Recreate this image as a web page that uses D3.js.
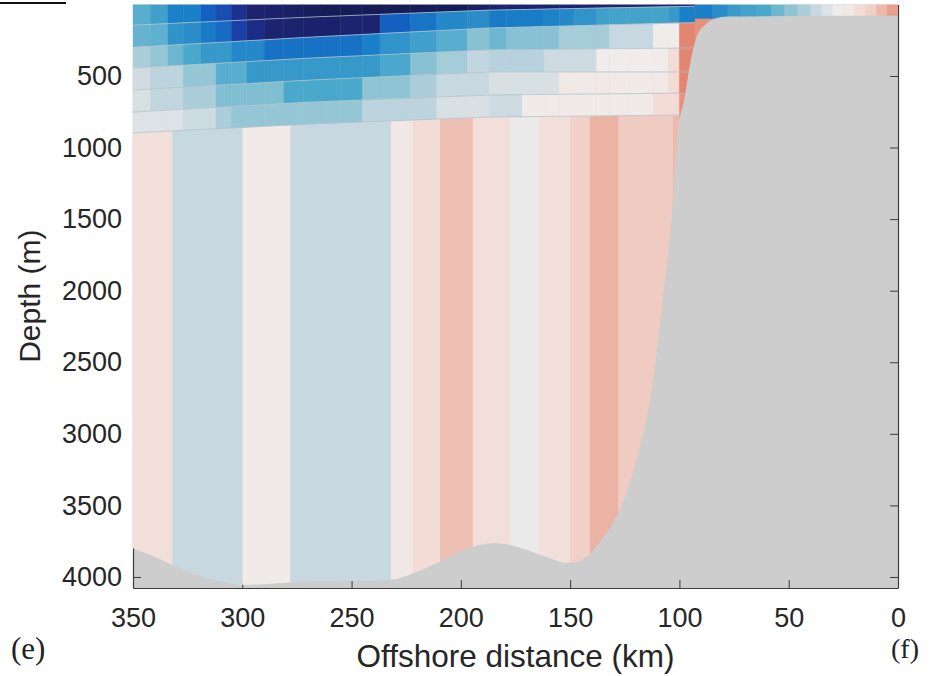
<!DOCTYPE html>
<html>
<head>
<meta charset="utf-8">
<script src="https://cdn.jsdelivr.net/npm/d3@7"></script>
<style>
  body { margin: 0; background: #fff; }
  .tick text { font-family: "Liberation Sans", Arial, sans-serif; font-size: 27px; fill: #262626; }
  .tick line, .domain { stroke: #3a3a3a; }
</style>
</head>
<body>
<script>
// ---- data ----
// upper layer column edges (km offshore)
const upperEdges = [350, 342, 334, 327, 319, 312, 305, 298, 290, 281, 272, 264, 255, 245, 237,
                    223, 211, 197, 187, 179, 172, 162, 155, 148, 138, 132, 123, 112, 105, 100, 93];
// values per layer (surface -> deep), one per column
const layer1 = [-0.28, -0.33, -0.45, -0.45, -0.6, -0.67, -0.8, -0.9, -0.92, -0.95, -0.97, -1, -1, -1, -1,
                -1, -1, -0.95, -0.9, -0.9, -0.9, -0.9, -0.9, -0.9, -0.9, -0.9, -0.9, -0.9, -0.9, -0.88];
const layer2 = [-0.26, -0.27, -0.38, -0.4, -0.48, -0.55, -0.72, -0.83, -0.9, -0.9, -0.92, -0.92, -0.9, -0.9, -0.6,
                -0.5, -0.42, -0.4, -0.48, -0.47, -0.47, -0.44, -0.42, -0.38, -0.33, -0.32, -0.32, -0.32, -0.36, -0.45];
const layer3 = [-0.15, -0.19, -0.25, -0.3, -0.36, -0.36, -0.42, -0.42, -0.52, -0.52, -0.52, -0.52, -0.52, -0.45, -0.38,
                -0.33, -0.28, -0.21, -0.25, -0.21, -0.21, -0.21, -0.16, -0.16, -0.16, -0.1, -0.1, 0.0, 0.0, 0.45];
const layer4 = [-0.08, -0.12, -0.12, -0.19, -0.19, -0.28, -0.28, -0.36, -0.36, -0.36, -0.36, -0.36, -0.36, -0.36, -0.3,
                -0.21, -0.16, -0.11, -0.13, -0.13, -0.13, -0.09, -0.09, -0.09, 0.0, 0.0, 0.0, 0.0, 0.1, 0.45];
const layer5 = [-0.06, -0.11, -0.11, -0.15, -0.15, -0.22, -0.22, -0.22, -0.22, -0.3, -0.3, -0.3, -0.3, -0.2, -0.2,
                -0.15, -0.1, -0.1, -0.06, -0.06, -0.06, -0.06, 0.02, 0.02, 0.02, 0.02, 0.02, 0.02, 0.1, 0.45];
const layer6 = [-0.05, -0.05, -0.05, -0.09, -0.09, -0.15, -0.19, -0.19, -0.19, -0.19, -0.19, -0.19, -0.19, -0.12, -0.12,
                -0.12, -0.06, -0.06, -0.09, -0.09, 0.01, 0.01, 0.01, 0.01, 0.01, 0.01, 0.01, 0.1, 0.1, 0.4];

// layer interface depths (m) at a few offshore positions
const interfaceKm = [350, 268, 187, 100];
const interface1 = [145, 88, 40, 15];
const interface2 = [300, 228, 165, 130];
const interface3 = [445, 374, 318, 305];
const interface4 = [598, 528, 472, 472];
const interface5 = [752, 682, 633, 620];
const interface6 = [898, 835, 787, 773];

// deep layer columns
const deepEdges = [350, 332, 300, 278, 232, 222, 209.5, 194.5, 177.5, 164, 150, 141, 128, 103, 100, 80];
const deepValues = [0.08, -0.1, 0.01, -0.1, 0.03, 0.1, 0.22, 0.08, -0.01, 0.08, 0.15, 0.27, 0.17, 0.24, 0.4];

// shelf surface layer
const shelfEdges = [93, 85, 78, 72, 65, 58, 52, 46, 40, 35, 30, 25, 20, 15, 10, 5, 0];
const shelfValues = [-0.45, -0.4, -0.35, -0.32, -0.3, -0.25, -0.2, -0.15, -0.1, -0.05, 0.0, 0.03, 0.1, 0.15, 0.25, 0.35];
const shelfBase = 100;

// bathymetry
const bathyKm = [350, 340, 330, 320, 310, 300, 290, 275, 250, 232, 222, 210, 200, 190, 185, 178, 170, 160,
                 152, 147, 141, 136, 128, 120, 112, 107.5, 103.4, 100.7, 97.9, 95, 92, 88, 84, 78, 60, 0];
const bathyDepth = [3800, 3860, 3930, 3990, 4030, 4055, 4050, 4035, 4028, 4020, 3975, 3895, 3820, 3772, 3763, 3775, 3810, 3865,
                    3900, 3895, 3840, 3745, 3555, 3200, 2620, 2040, 1460, 880, 670, 400, 220, 140, 100, 85, 82, 80];

const xTicks = [350, 300, 250, 200, 150, 100, 50, 0];
const yTicks = [500, 1000, 1500, 2000, 2500, 3000, 3500, 4000];

// ---- scales ----
const width = 940, height = 676;
const maxDepth = 4077;
const x = d3.scaleLinear().domain([350, 0]).range([133, 898]);
const y = d3.scaleLinear().domain([0, maxDepth]).range([4.4, 588]);

const color = d3.scaleLinear()
    .domain([-1, -0.9, -0.75, -0.6, -0.45, -0.3, -0.2, -0.1, 0, 0.1, 0.25, 0.4, 0.6, 1])
    .range(["#161c55", "#1c2470", "#1c38a0", "#1460c0", "#1a80c8", "#4aa8cc", "#8ec4d4",
            "#c8d8e0", "#efeceb", "#f4dcd6", "#ecb8aa", "#e6937e", "#d5604a", "#8a1c1c"])
    .clamp(true);

const svg = d3.select("body").append("svg")
    .attr("width", width)
    .attr("height", height);

// water clip (above sea floor)
const bathy = bathyKm.map((k, i) => [k, bathyDepth[i]]);
const waterArea = d3.area()
    .x(d => x(d[0]))
    .y0(y(0))
    .y1(d => y(d[1]))
    .curve(d3.curveMonotoneX);

svg.append("defs").append("clipPath").attr("id", "water")
  .append("path").attr("d", waterArea(bathy));

// sea floor background
svg.append("rect")
    .attr("x", x(350)).attr("y", y(0))
    .attr("width", x(0) - x(350)).attr("height", y(maxDepth) - y(0))
    .attr("fill", "#cdcdcd");

// axes (drawn below the data, like the original)
svg.append("g")
    .attr("transform", `translate(0,${y(maxDepth)})`)
    .call(d3.axisBottom(x).tickValues(xTicks).tickSizeInner(-8).tickSizeOuter(0).tickPadding(20))
    .call(g => g.select(".domain").attr("stroke-width", 1.2));

svg.append("g")
    .attr("transform", `translate(${x(350)},0)`)
    .call(d3.axisLeft(y).tickValues(yTicks).tickFormat(d3.format("d"))
        .tickSizeInner(-8).tickSizeOuter(0).tickPadding(11))
    .call(g => g.select(".domain").attr("stroke-width", 1.2));

svg.append("g")
    .attr("transform", `translate(${x(0)},0)`)
    .call(d3.axisRight(y).tickValues(yTicks).tickSizeInner(-8).tickSizeOuter(0).tickFormat(""))
    .call(g => g.select(".domain").attr("stroke-width", 1.2));

// ---- data layer ----
const data = svg.append("g").attr("clip-path", "url(#water)");

// deep columns
const deepCols = deepValues.map((v, i) => ({k0: deepEdges[i], k1: deepEdges[i + 1], v}));
data.selectAll(".deep").data(deepCols).enter().append("rect")
    .attr("class", "deep")
    .attr("x", d => x(d.k0))
    .attr("width", d => x(d.k1) - x(d.k0) + 0.5)
    .attr("y", y(0))
    .attr("height", y(maxDepth) - y(0))
    .attr("fill", d => color(d.v));

// shelf surface cells
const shelfCols = shelfValues.map((v, i) => ({k0: shelfEdges[i], k1: shelfEdges[i + 1], v}));
data.selectAll(".shelf").data(shelfCols).enter().append("rect")
    .attr("class", "shelf")
    .attr("x", d => x(d.k0))
    .attr("width", d => x(d.k1) - x(d.k0) + 0.5)
    .attr("y", y(0))
    .attr("height", y(shelfBase) - y(0))
    .attr("fill", d => color(d.v));

// upper layers
const interfaces = [interface1, interface2, interface3, interface4, interface5, interface6]
    .map(arr => d3.scaleLinear().domain(interfaceKm).range(arr));
const top0 = () => 0;
const bounds = [top0, ...interfaces];
const layers = [layer1, layer2, layer3, layer4, layer5, layer6];

const cells = [];
layers.forEach((vals, li) => {
  vals.forEach((v, ci) => {
    const k0 = upperEdges[ci], k1 = upperEdges[ci + 1];
    const t = bounds[li], b = bounds[li + 1];
    cells.push({v, pts: [[k0, t(k0)], [k1, t(k1)], [k1, b(k1)], [k0, b(k0)]]});
  });
});

const poly = d3.line().x(d => x(d[0])).y(d => y(d[1]));
data.selectAll(".cell").data(cells).enter().append("path")
    .attr("class", "cell")
    .attr("d", d => poly(d.pts) + "Z")
    .attr("fill", d => color(d.v))
    .attr("stroke", d => color(d.v))
    .attr("stroke-width", 0.4);

// thin interface lines
const lineKm = [350, 268, 187, 100, 93];
data.selectAll(".ifc").data(interfaces).enter().append("path")
    .attr("class", "ifc")
    .attr("d", f => poly(lineKm.map(k => [k, f(k)])))
    .attr("fill", "none")
    .attr("stroke", "#b4c2cc")
    .attr("stroke-width", 0.9)
    .attr("opacity", 0.85);

// ---- labels ----
svg.append("text")
    .attr("transform", `translate(40,${(y(0) + y(maxDepth)) / 2}) rotate(-90)`)
    .attr("text-anchor", "middle")
    .style("font-family", "Liberation Sans, Arial, sans-serif")
    .style("font-size", "30px")
    .attr("fill", "#262626")
    .text("Depth (m)");

svg.append("text")
    .attr("x", (x(350) + x(0)) / 2)
    .attr("y", 667)
    .attr("text-anchor", "middle")
    .style("font-family", "Liberation Sans, Arial, sans-serif")
    .style("font-size", "31.5px")
    .attr("fill", "#262626")
    .text("Offshore distance (km)");

svg.append("text")
    .attr("x", 11).attr("y", 659)
    .style("font-family", "Liberation Serif, serif")
    .style("font-size", "31px")
    .attr("fill", "#222")
    .text("(e)");

svg.append("text")
    .attr("x", 891).attr("y", 658)
    .style("font-family", "Liberation Serif, serif")
    .style("font-size", "28px")
    .attr("fill", "#222")
    .text("(f)");

// stray rule from the panel above
svg.append("line")
    .attr("x1", 0).attr("x2", 66).attr("y1", 3).attr("y2", 3)
    .attr("stroke", "#111").attr("stroke-width", 2);
</script>
</body>
</html>
